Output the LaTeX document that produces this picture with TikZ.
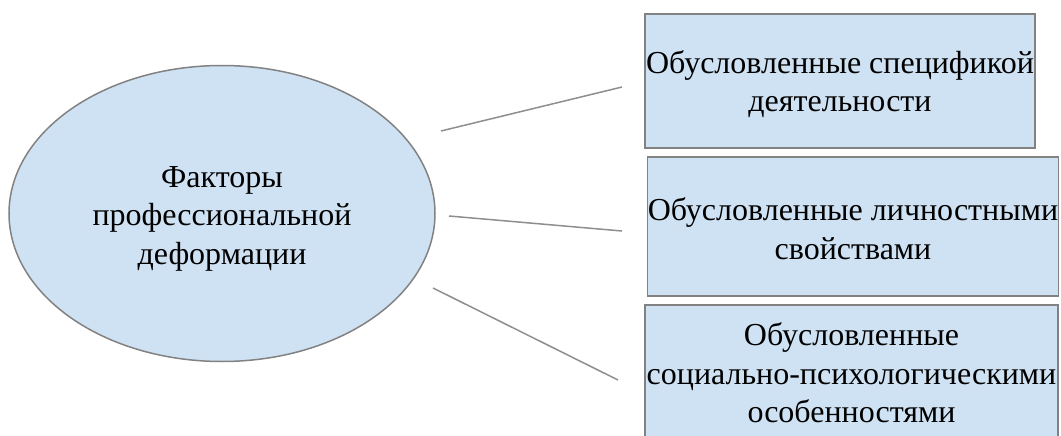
\documentclass[tikz,border=0pt]{standalone}
\usepackage{fontspec}
\setmainfont{Liberation Serif}
\usetikzlibrary{shapes.geometric}
\definecolor{paleblue}{HTML}{CFE2F3}
\definecolor{edgegray}{HTML}{828282}

\begin{document}
\begin{tikzpicture}[x=1pt,y=-1pt,
    factor/.style={draw=edgegray,line width=1.5pt,fill=paleblue,inner sep=0pt},
    caption/.style={align=center,inner sep=0pt,font=\fontsize{32}{38.5}\selectfont},
    link/.style={draw=edgegray!90,line width=1.5pt}]
    \clip (0,0) rectangle (1061,436);
    % central ellipse
    \node[factor,ellipse,minimum width=426,minimum height=296,
      label={[caption,yshift=-5pt]center:Факторы\\профессиональной\\деформации}]
      (core) at (222,213.5) {};
    % three groups of factors
    \node[factor,minimum width=390,minimum height=134,
      label={[caption,yshift=-3pt]center:Обусловленные спецификой\\деятельности}]
      (spec) at (840,81) {};
    \node[factor,minimum width=411,minimum height=139,
      label={[caption,yshift=-2pt]center:Обусловленные личностными\\свойствами}]
      (pers) at (853,226.5) {};
    \node[factor,minimum width=413,minimum height=136,
      label={[caption]center:Обусловленные\\социально-психологическими\\особенностями}]
      (soc) at (851.5,373) {};
    % connectors (free ends)
    \coordinate (s1) at (441,131);
    \coordinate (e1) at (622,87);
    \coordinate (s2) at (449,216);
    \coordinate (e2) at (622,231);
    \coordinate (s3) at (433,288);
    \coordinate (e3) at (618,380);
    \draw[link] (s1) -- (e1);
    \draw[link] (s2) -- (e2);
    \draw[link] (s3) -- (e3);
\end{tikzpicture}
\end{document}
